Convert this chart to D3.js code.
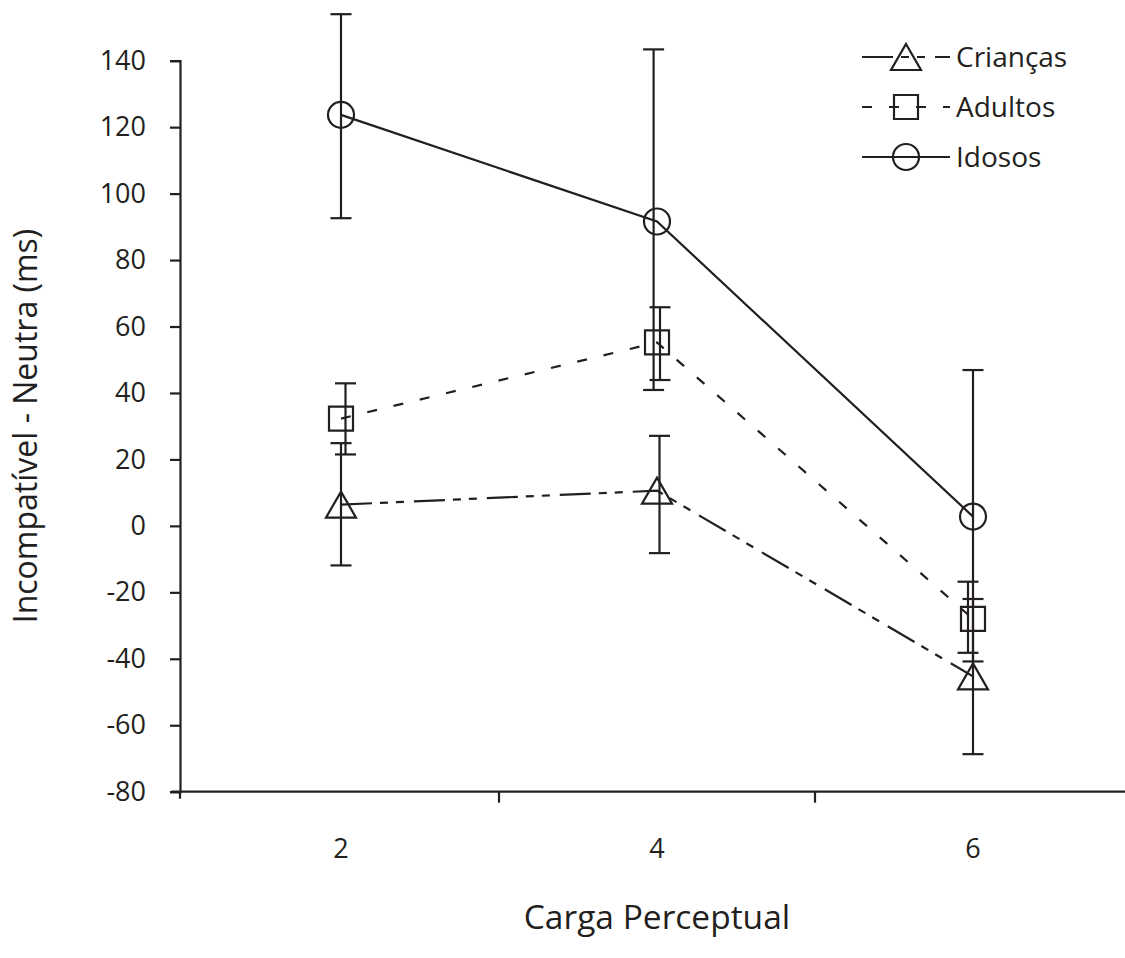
<!DOCTYPE html>
<html>
<head>
<meta charset="utf-8">
<script src="https://cdn.jsdelivr.net/npm/d3@7"></script>
<style>
  html, body { margin: 0; padding: 0; background: #fff; }
  svg { display: block; }
  text { font-family: "Open Sans", "Noto Sans", sans-serif; fill: #231f20; }
</style>
</head>
<body>
<svg id="chart" width="1125" height="958"></svg>
<script>
// ---- data ----
const categories = ["2", "4", "6"];
const seriesNames = ["Crianças", "Adultos", "Idosos"];
const yTicks = [-80, -60, -40, -20, 0, 20, 40, 60, 80, 100, 120, 140];

const criancasMean = [6.4, 10.6, -45.3];
const criancasLow  = [-11.9, -8.2, -68.7];
const criancasHigh = [24.9, 27.1, -22.0];

const adultosMean = [32.3, 55.2, -28.0];
const adultosLow  = [21.5, 43.9, -38.2];
const adultosHigh = [42.9, 65.8, -16.8];

const idososMean = [123.7, 91.6, 2.8];
const idososLow  = [92.6, 40.9, -40.8];
const idososHigh = [154.0, 143.4, 46.9];

const xTitle = "Carga Perceptual";
const yTitle = "Incompatível - Neutra (ms)";

// ---- styling (drawing constants) ----
const ink = "#231f20";
const styles = {
  "Crianças": { dash: "31,8,8,8,8,10", marker: "triangle", barShift: [0, 2.5, 0] },
  "Adultos":  { dash: "10,17", marker: "square", barShift: [4.5, 3, -5] },
  "Idosos":   { dash: null, marker: "circle", barShift: [0, -3.4, 0] }
};

const series = [
  { name: "Crianças", mean: criancasMean, low: criancasLow, high: criancasHigh },
  { name: "Adultos",  mean: adultosMean,  low: adultosLow,  high: adultosHigh },
  { name: "Idosos",   mean: idososMean,   low: idososLow,   high: idososHigh }
];

const svg = d3.select("#chart");

const x = d3.scaleBand().domain(categories).range([183, 1131]).padding(0);
const cx = c => x(c) + x.bandwidth() / 2;
const y = d3.scaleLinear().domain([-80, 140]).range([791.7, 60.7]);

const FS_TICK = 27;
const FS_YTITLE = 32;
const FS_XTITLE = 33.5;
const FS_LEGEND = 28;

// ---- y axis ----
const yAxis = d3.axisLeft(y).tickValues(yTicks).tickFormat(d => String(d))
  .tickSize(10).tickSizeOuter(10).tickPadding(24);
const yg = svg.append("g").attr("transform", "translate(180,0)").call(yAxis);
yg.select(".domain").attr("stroke", ink).attr("stroke-width", 2.2);
yg.selectAll(".tick line").attr("stroke", ink).attr("stroke-width", 2.2);
yg.selectAll(".tick text").attr("font-size", FS_TICK).attr("font-family", "'Open Sans', sans-serif").attr("fill", ink);
// small extension of y axis below the x axis
svg.append("line").attr("x1", 180).attr("x2", 180).attr("y1", y(-80)).attr("y2", y(-80) + 7)
  .attr("stroke", ink).attr("stroke-width", 2.2);

// ---- x axis ----
const xAxis = d3.axisBottom(x).tickSize(0).tickPadding(47);
const xg = svg.append("g").attr("transform", `translate(0,${y(-80)})`).call(xAxis);
xg.select(".domain").remove();
xg.selectAll(".tick").attr("transform", d => `translate(${cx(d)},0)`);
xg.selectAll(".tick text").attr("font-size", FS_TICK).attr("font-family", "'Open Sans', sans-serif").attr("fill", ink);
svg.append("line").attr("x1", 171.5).attr("x2", 1125).attr("y1", y(-80)).attr("y2", y(-80))
  .attr("stroke", ink).attr("stroke-width", 2.2);
// ticks at band boundaries between categories
svg.selectAll(".xbound").data(categories.slice(1)).enter().append("line")
  .attr("class", "xbound")
  .attr("x1", d => x(d)).attr("x2", d => x(d))
  .attr("y1", y(-80)).attr("y2", y(-80) + 11)
  .attr("stroke", ink).attr("stroke-width", 2.2);

// ---- titles ----
svg.append("text").attr("x", cx("4")).attr("y", 929).attr("text-anchor", "middle")
  .attr("font-size", FS_XTITLE).text(xTitle);
svg.append("text").attr("transform", `translate(37,${426}) rotate(-90)`).attr("text-anchor", "middle")
  .attr("font-size", FS_YTITLE).text(yTitle);

// ---- markers ----
function drawMarker(g, type, px, py) {
  if (type === "circle") {
    g.append("circle").attr("cx", px).attr("cy", py).attr("r", 13)
      .attr("fill", "none").attr("stroke", ink).attr("stroke-width", 2.2);
  } else {
    const d = type === "triangle" ? "M0,-13L15,13L-15,13Z" : "M-12,-12H12V12H-12Z";
    g.append("path").attr("d", d).attr("transform", `translate(${px},${py})`)
      .attr("fill", "none").attr("stroke", ink).attr("stroke-width", 2.2);
  }
}

// ---- lines ----
const line = d3.line().x(d => cx(d.c)).y(d => y(d.v));
series.forEach(s => {
  const pts = categories.map((c, i) => ({ c, v: s.mean[i] }));
  svg.append("path").attr("d", line(pts)).attr("fill", "none")
    .attr("stroke", ink).attr("stroke-width", 2.2)
    .attr("stroke-dasharray", styles[s.name].dash);
});

// ---- error bars ----
const capW = 21;
series.forEach(s => {
  const g = svg.append("g");
  categories.forEach((c, i) => {
    const bx = cx(c) + styles[s.name].barShift[i];
    g.append("line").attr("x1", bx).attr("x2", bx).attr("y1", y(s.low[i])).attr("y2", y(s.high[i]))
      .attr("stroke", ink).attr("stroke-width", 2.2);
    [s.low[i], s.high[i]].forEach(v => {
      g.append("line").attr("x1", bx - capW / 2).attr("x2", bx + capW / 2)
        .attr("y1", y(v)).attr("y2", y(v)).attr("stroke", ink).attr("stroke-width", 2.2);
    });
  });
});

// ---- markers on top ----
series.forEach(s => {
  const g = svg.append("g");
  categories.forEach((c, i) => drawMarker(g, styles[s.name].marker, cx(c), y(s.mean[i])));
});

// ---- legend ----
const legendRows = [57, 107, 157];
seriesNames.forEach((name, i) => {
  const g = svg.append("g");
  const ly = legendRows[i];
  g.append("line").attr("x1", 862).attr("x2", 950).attr("y1", ly).attr("y2", ly)
    .attr("stroke", ink).attr("stroke-width", 2.2)
    .attr("stroke-dasharray", styles[name].dash);
  drawMarker(g, styles[name].marker, 906, ly);
  g.append("text").attr("x", 956).attr("y", ly).attr("dy", "0.36em")
    .attr("font-size", FS_LEGEND).text(name);
});
</script>
</body>
</html>
